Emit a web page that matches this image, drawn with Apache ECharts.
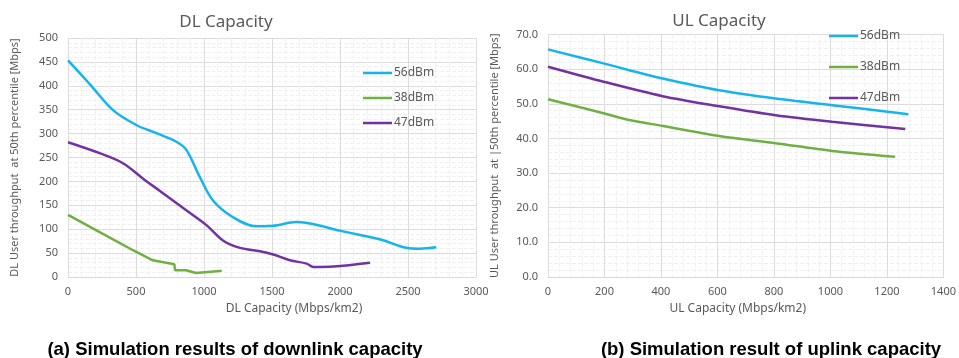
<!DOCTYPE html>
<html>
<head>
<meta charset="utf-8">
<script src="https://cdn.jsdelivr.net/npm/echarts@6/dist/echarts.min.js"></script>
<style>
  html, body { margin: 0; padding: 0; background: #fff; }
  #chart { width: 959px; height: 358px; }
</style>
</head>
<body>
<div id="chart"></div>
<script>
// ── Data ───────────────────────────────────────────────
const seriesNames = ['56dBm', '38dBm', '47dBm'];

// DL capacity (Mbps/km2) vs DL user throughput (Mbps)
const dl56X = [0, 171, 331, 502, 650, 797, 870, 968, 1066, 1213, 1385, 1507, 1679, 1801, 1998, 2292, 2488, 2586, 2708];
const dl56Y = [453, 400, 349, 318, 301, 283, 266, 210, 160, 125, 106, 107, 115, 111, 97, 79, 61, 59, 62];
const dl38X = [0, 233, 478, 623, 782, 787, 868, 880, 941, 1112, 1130];
const dl38Y = [130, 94, 56, 35, 26.5, 14, 14, 15, 8.5, 12.5, 13];
const dl47X = [0, 233, 404, 564, 676, 872, 1020, 1142, 1265, 1412, 1510, 1632, 1755, 1804, 1951, 2221];
const dl47Y = [282, 259, 238, 203, 180, 139, 108, 76, 61, 54, 47, 35, 28, 21, 22, 30];

// UL capacity (Mbps/km2) vs UL user throughput (Mbps)
const ul56X = [0, 200, 288, 406, 606, 806, 1006, 1276];
const ul56Y = [65.7, 61.6, 59.7, 57.3, 53.9, 51.5, 49.6, 47.0];
const ul38X = [0, 200, 288, 406, 606, 806, 1006, 1229];
const ul38Y = [51.3, 47.2, 45.3, 43.6, 40.7, 38.6, 36.4, 34.7];
const ul47X = [0, 200, 406, 606, 806, 1006, 1265];
const ul47Y = [60.7, 56.3, 52.2, 49.3, 46.7, 44.8, 42.7];

// ── Style ──────────────────────────────────────────────
const COLORS  = { '56dBm': '#16B4EC', '38dBm': '#6FB043', '47dBm': '#7232A2' };
const GREY    = '#595959';
const FONT    = "'Noto Sans', 'Open Sans', sans-serif";
const CAPTION = "bold 18.5px 'Liberation Sans', Arial, sans-serif";

const pairs = (xs, ys) => xs.map((x, i) => [x, ys[i]]);

function lineSeries(name, data, idx, smooth) {
  return {
    name, type: 'line', xAxisIndex: idx, yAxisIndex: idx,
    data, smooth, showSymbol: false, silent: true,
    lineStyle: { color: COLORS[name], width: 2.5 },
    itemStyle: { color: COLORS[name] },
  };
}

function xAxisCfg(idx, max, interval, name, pad) {
  return {
    type: 'value', gridIndex: idx, min: 0, max, interval,
    name, nameLocation: 'middle', nameGap: 26,
    nameTextStyle: { color: GREY, fontFamily: FONT, fontSize: 12, padding: pad },
    axisLine: { lineStyle: { color: '#d9d9d9' } },
    axisTick: { show: false },
    axisLabel: { color: GREY, fontFamily: FONT, fontSize: 11, margin: 9, formatter: v => String(v) },
    splitLine: { lineStyle: { color: '#dcdcdc' } },
    minorTick: { show: false, splitNumber: 5 },
    minorSplitLine: { show: true, lineStyle: { color: '#f0f0f0', type: 'dashed' } },
  };
}

function yAxisCfg(idx, max, interval, name, fmt) {
  return {
    type: 'value', gridIndex: idx, min: 0, max, interval,
    name, nameLocation: 'middle', nameGap: 48,
    nameTextStyle: { color: GREY, fontFamily: FONT, fontSize: 11 },
    axisLine: { show: false },
    axisTick: { show: false },
    axisLabel: { color: GREY, fontFamily: FONT, fontSize: 11, margin: 10, formatter: fmt },
    splitLine: { lineStyle: { color: '#dcdcdc' } },
    minorTick: { show: false, splitNumber: 5 },
    minorSplitLine: { show: true, lineStyle: { color: '#f0f0f0', type: 'dashed' } },
  };
}

function legendCfg(left, top, gap) {
  return {
    data: seriesNames, left, top, orient: 'vertical', itemGap: gap,
    icon: 'rect', itemWidth: 29, itemHeight: 2.5, selectedMode: false,
    textStyle: { color: GREY, fontFamily: FONT, fontSize: 12, padding: [0, 0, 0, -3] },
  };
}

const chart = echarts.init(document.getElementById('chart'), null, { renderer: 'canvas' });

chart.setOption({
  backgroundColor: '#ffffff',
  animation: false,
  title: [
    { text: 'DL Capacity', left: 221, top: 9, textAlign: 'center',
      textStyle: { color: GREY, fontFamily: FONT, fontSize: 17, fontWeight: 'normal' } },
    { text: 'UL Capacity', left: 714, top: 8, textAlign: 'center',
      textStyle: { color: GREY, fontFamily: FONT, fontSize: 17, fontWeight: 'normal' } },
  ],
  legend: [legendCfg(358, 62, 13), legendCfg(824, 25, 19)],
  grid: [
    { left: 68, right: 483, top: 38, bottom: 81 },
    { left: 548, right: 14, top: 34.5, bottom: 81 },
  ],
  xAxis: [
    xAxisCfg(0, 3000, 500, 'DL Capacity (Mbps/km2)', [0, 0, 0, 44]),
    xAxisCfg(1, 1400, 200, 'UL Capacity (Mbps/km2)', [0, 16, 0, 0]),
  ],
  yAxis: [
    yAxisCfg(0, 500, 50, 'DL User throughput  at 50th percentile [Mbps]', v => v),
    yAxisCfg(1, 70, 10, 'UL User throughput  at |50th percentile [Mbps]', v => v.toFixed(1)),
  ],
  series: [
    lineSeries('56dBm', pairs(dl56X, dl56Y), 0, 0.35),
    lineSeries('38dBm', pairs(dl38X, dl38Y), 0, false),
    lineSeries('47dBm', pairs(dl47X, dl47Y), 0, 0.35),
    lineSeries('56dBm', pairs(ul56X, ul56Y), 1, 0.3),
    lineSeries('38dBm', pairs(ul38X, ul38Y), 1, 0.3),
    lineSeries('47dBm', pairs(ul47X, ul47Y), 1, 0.3),
  ],
  graphic: [
    { type: 'text', x: 235, y: 350,
      style: { text: '(a) Simulation results of downlink capacity', fill: '#000',
               font: CAPTION, textAlign: 'center', textVerticalAlign: 'middle' } },
    { type: 'text', x: 771, y: 350,
      style: { text: '(b) Simulation result of uplink capacity', fill: '#000',
               font: CAPTION, textAlign: 'center', textVerticalAlign: 'middle' } },
  ],
});
</script>
</body>
</html>
